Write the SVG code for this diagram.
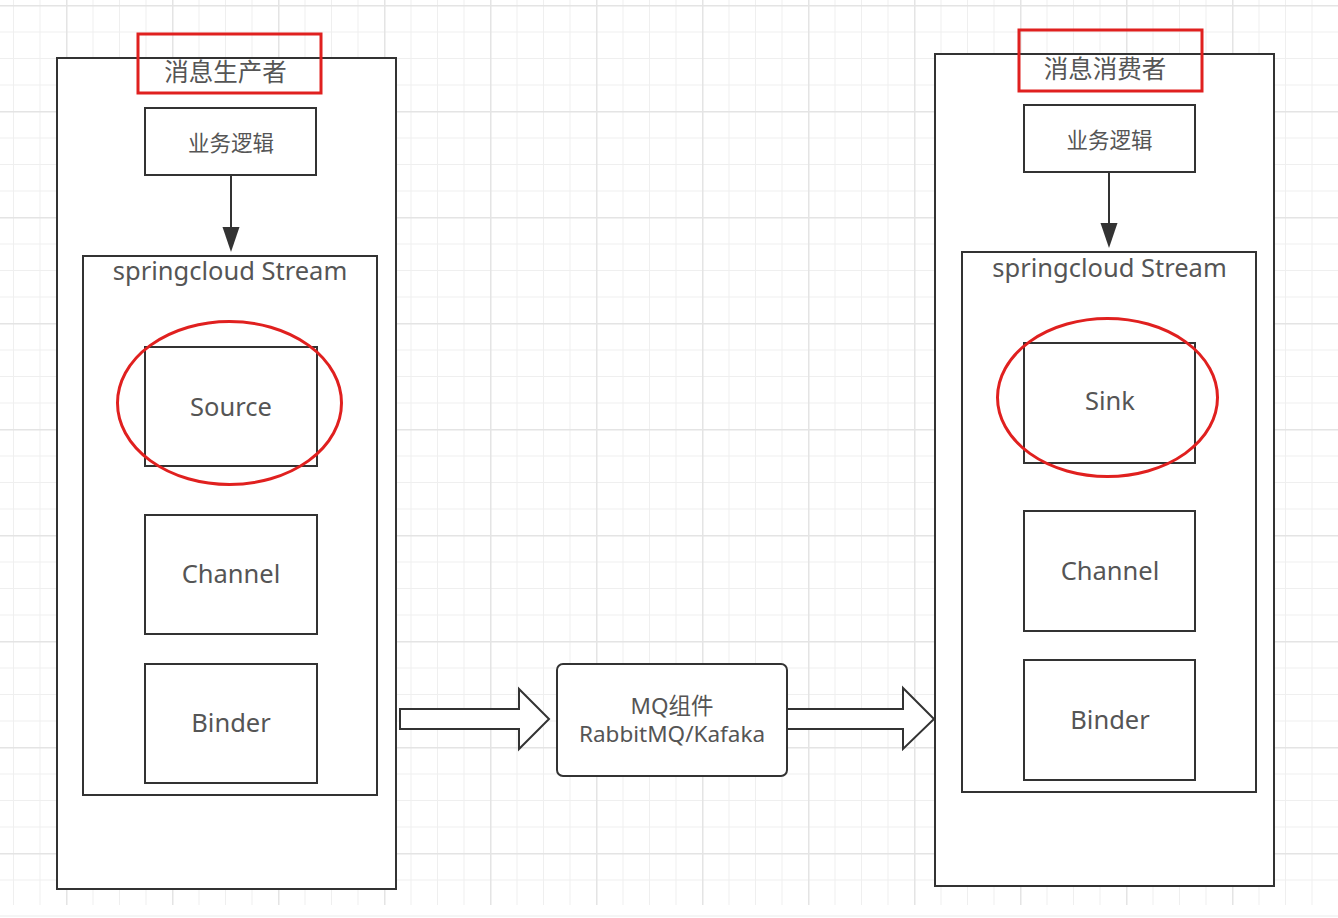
<svg xmlns="http://www.w3.org/2000/svg" width="1338" height="918" viewBox="0 0 1338 918">
<style>
.box{fill:#fff;stroke:#333;stroke-width:2}
.red{fill:none;stroke:#e0201f;stroke-width:3}
.t{font-family:"Noto Sans","Noto Sans CJK SC",sans-serif;fill:#555;text-anchor:middle}
.big{font-size:25.5px}
.title{font-size:24.5px}
.cn{font-size:21.5px}
.mq{font-size:22.5px}
.conn{stroke:#333;stroke-width:2;fill:none}
.head{fill:#333}
.block{fill:#fff;stroke:#333;stroke-width:2;stroke-linejoin:miter}
</style>
<defs>
<pattern id="grid" patternUnits="userSpaceOnUse" x="66" y="5" width="106" height="106">
<rect x="0" y="0" width="106" height="106" fill="#fff"/>
<rect x="26.5" y="0" width="1" height="106" fill="#efefef"/>
<rect x="53" y="0" width="1" height="106" fill="#efefef"/>
<rect x="79.5" y="0" width="1" height="106" fill="#efefef"/>
<rect x="0" y="26.5" width="106" height="1" fill="#efefef"/>
<rect x="0" y="53" width="106" height="1" fill="#efefef"/>
<rect x="0" y="79.5" width="106" height="1" fill="#efefef"/>
<rect x="0" y="0" width="1.5" height="106" fill="#e4e4e4"/>
<rect x="0" y="0" width="106" height="1.5" fill="#e4e4e4"/>
</pattern>
</defs>
<rect x="0" y="0" width="1338" height="918" fill="#fff"/>
<rect x="0" y="0" width="1338" height="905" fill="url(#grid)"/>
<rect x="0" y="915.5" width="1338" height="1" fill="#ececec"/>

<g id="producer">
<rect class="box" x="57" y="58" width="339" height="831"/>
<rect class="red" x="138" y="34" width="183" height="59"/>
<text class="t title" x="225.5" y="81">消息生产者</text>
</g>
<g id="producer-logic">
<rect class="box" x="145" y="108" width="171" height="67"/>
<text class="t cn" x="231" y="151">业务逻辑</text>
</g>
<g id="producer-stream">
<rect class="box" x="83" y="256" width="294" height="539"/>
<text class="t big" x="230" y="280">springcloud Stream</text>
</g>
<g id="source">
<rect class="box" x="145" y="347" width="172" height="119"/>
<text class="t big" x="231" y="416">Source</text>
<ellipse class="red" cx="229.5" cy="403" rx="112" ry="81.5"/>
</g>
<g id="producer-channel">
<rect class="box" x="145" y="515" width="172" height="119"/>
<text class="t big" x="231" y="583">Channel</text>
</g>
<g id="producer-binder">
<rect class="box" x="145" y="664" width="172" height="119"/>
<text class="t big" x="231" y="732">Binder</text>
</g>

<g id="mq">
<rect class="box" x="557" y="664" width="230" height="112" rx="6" ry="6"/>
<text class="t mq" x="672" y="714">MQ组件</text>
<text class="t mq" x="672" y="742">RabbitMQ/Kafaka</text>
</g>

<g id="consumer">
<rect class="box" x="935" y="54" width="339" height="832"/>
<rect class="red" x="1019" y="30" width="183" height="61"/>
<text class="t title" x="1105" y="78">消息消费者</text>
</g>
<g id="consumer-logic">
<rect class="box" x="1024" y="105" width="171" height="67"/>
<text class="t cn" x="1109.5" y="148">业务逻辑</text>
</g>
<g id="consumer-stream">
<rect class="box" x="962" y="252" width="294" height="540"/>
<text class="t big" x="1109.5" y="277">springcloud Stream</text>
</g>
<g id="sink">
<rect class="box" x="1024" y="343" width="171" height="120"/>
<text class="t big" x="1110" y="410">Sink</text>
<ellipse class="red" cx="1107.5" cy="397.5" rx="110" ry="79"/>
</g>
<g id="consumer-channel">
<rect class="box" x="1024" y="511" width="171" height="120"/>
<text class="t big" x="1110" y="580">Channel</text>
</g>
<g id="consumer-binder">
<rect class="box" x="1024" y="660" width="171" height="120"/>
<text class="t big" x="1110" y="729">Binder</text>
</g>

<g id="connectors">
<line class="conn" x1="231" y1="175" x2="231" y2="230"/>
<polygon class="head" points="222.5,227 239.5,227 231,252"/>
<line class="conn" x1="1109" y1="172" x2="1109" y2="226"/>
<polygon class="head" points="1100.5,223 1117.5,223 1109,248"/>
<polygon class="block" points="400,709 519,709 519,689 549,719 519,749 519,729 400,729"/>
<polygon class="block" points="787,709 903,709 903,688 934,719 903,749 903,729 787,729"/>
</g>
</svg>
